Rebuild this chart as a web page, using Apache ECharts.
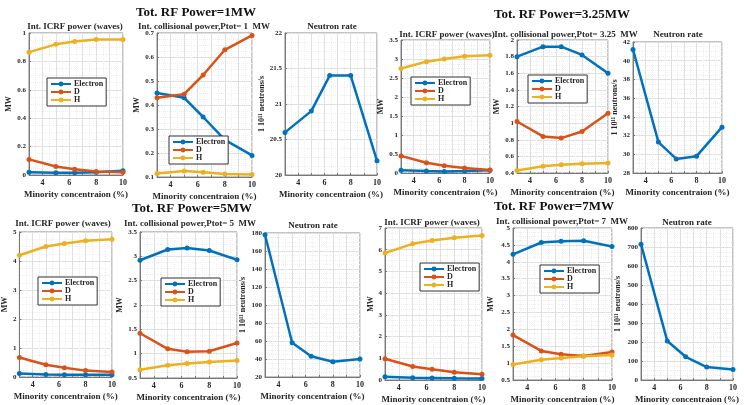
<!DOCTYPE html>
<html>
<head>
<meta charset="utf-8">
<script src="https://cdn.jsdelivr.net/npm/echarts@6/dist/echarts.min.js"></script>
<style>
html, body { margin: 0; padding: 0; background: #fff; }
#chart { width: 744px; height: 405px; }
</style>
</head>
<body>
<div id="chart"></div>
<script>
// minority concentration (%)
var conc = [3, 5, 6.4, 8, 10]
var names = ['Electron', 'D', 'H']

// Tot. RF Power = 1 MW
var icrf1Electron = [0.02, 0.015, 0.015, 0.02, 0.03]
var icrf1D = [0.11, 0.06, 0.04, 0.025, 0.02]
var icrf1H = [0.865, 0.92, 0.94, 0.955, 0.955]
var coll1Electron = [0.45, 0.43, 0.35, 0.255, 0.19]
var coll1D = [0.43, 0.445, 0.525, 0.63, 0.69]
var coll1H = [0.115, 0.125, 0.12, 0.112, 0.11]
var neutron1 = [20.6, 20.9, 21.4, 21.4, 20.2]

// Tot. RF Power = 3.25 MW
var icrf3Electron = [0.07, 0.05, 0.04, 0.05, 0.07]
var icrf3D = [0.45, 0.27, 0.19, 0.13, 0.08]
var icrf3H = [2.75, 2.93, 3.0, 3.07, 3.1]
var coll3Electron = [1.8, 1.92, 1.92, 1.82, 1.6]
var coll3D = [1.02, 0.84, 0.82, 0.9, 1.12]
var coll3H = [0.43, 0.48, 0.5, 0.51, 0.52]
var neutron3 = [41.2, 31.3, 29.5, 29.8, 32.9]

// Tot. RF Power = 5 MW
var icrf5Electron = [0.12, 0.09, 0.08, 0.08, 0.08]
var icrf5D = [0.67, 0.42, 0.32, 0.22, 0.17]
var icrf5H = [4.2, 4.5, 4.6, 4.7, 4.75]
var coll5Electron = [2.92, 3.14, 3.17, 3.12, 2.93]
var coll5D = [1.42, 1.1, 1.04, 1.05, 1.22]
var coll5H = [0.67, 0.76, 0.8, 0.83, 0.86]
var neutron5 = [178, 58, 43, 37, 40]

// Tot. RF Power = 7 MW
var icrf7Electron = [0.15, 0.1, 0.09, 0.08, 0.07]
var icrf7D = [0.98, 0.62, 0.5, 0.36, 0.27]
var icrf7H = [5.85, 6.27, 6.42, 6.55, 6.65]
var coll7Electron = [4.22, 4.57, 4.61, 4.62, 4.45]
var coll7D = [1.83, 1.36, 1.26, 1.21, 1.33]
var coll7H = [0.96, 1.1, 1.15, 1.2, 1.24]
var neutron7 = [715, 205, 122, 68, 55]

var colors = ['#0072BD', '#D95319', '#EDB120']
var font = 'Liberation Serif'
var ink = '#262626'
var neutronName = '1 10\u00b9\u00b9 neutrons/s'

var panels = [
  { box: [29, 33, 94, 142], y: [0, 1, 0.2], title: 'Int. ICRF power (waves)', t: [75, 22], yn: 'MW', gap: 16, lines: [icrf1Electron, icrf1D, icrf1H], leg: [47, 78] },
  { box: [157, 33, 95, 144], y: [0.1, 0.7, 0.1], title: 'Int. collisional power,Ptot= 1  MW', t: [204, 22], yn: 'MW', gap: 14, lines: [coll1Electron, coll1D, coll1H], leg: [169, 136] },
  { box: [285, 33, 92, 142], y: [20, 22, 0.5], title: 'Neutron rate', t: [332, 22], yn: neutronName, gap: 18, lines: [neutron1] },
  { box: [401, 40, 89, 133], y: [0, 3.5, 0.5], title: 'Int. ICRF power (waves)', t: [447, 30], yn: 'MW', gap: 14, lines: [icrf3Electron, icrf3D, icrf3H], leg: [411, 77] },
  { box: [517, 40, 91, 133], y: [0.4, 2, 0.2], title: 'Int. collisional power,Ptot= 3.25  MW', t: [566, 30], yn: 'MW', gap: 13, lines: [coll3Electron, coll3D, coll3H], leg: [528, 75] },
  { box: [633, 42, 89, 131], y: [28, 42, 2], title: 'Neutron rate', t: [678, 30], yn: neutronName, gap: 14, lines: [neutron3] },
  { box: [17, 232, 95, 145], y: [0, 5, 1], title: 'Int. ICRF power (waves)', t: [63, 219], yn: 'MW', gap: 10, lines: [icrf5Electron, icrf5D, icrf5H], leg: [38, 277] },
  { box: [140, 232, 97, 146], y: [0.5, 3.5, 0.5], title: 'Int. collisional power,Ptot= 5  MW', t: [190, 219], yn: 'MW', gap: 9, lines: [coll5Electron, coll5D, coll5H], leg: [161, 278] },
  { box: [265, 233, 95, 144], y: [20, 180, 20], title: 'Neutron rate', t: [313, 221], yn: neutronName, gap: 18, lines: [neutron5] },
  { box: [385, 228, 97, 155], y: [0, 7, 1], title: 'Int. ICRF power (waves)', t: [432, 218], yn: 'MW', gap: 10, lines: [icrf7Electron, icrf7D, icrf7H], leg: [420, 263] },
  { box: [513, 228, 99, 155], y: [0.5, 5, 0.5], title: 'Int. collisional power,Ptot= 7  MW', t: [562, 217], yn: 'MW', gap: 18, lines: [coll7Electron, coll7D, coll7H], leg: [540, 265] },
  { box: [641, 228, 92, 155], y: [0, 800, 100], title: 'Neutron rate', t: [687, 218], yn: neutronName, gap: 19, lines: [neutron7] }
]

var superTitles = [
  { text: 'Tot. RF Power=1MW', x: 196, y: 6 },
  { text: 'Tot. RF Power=3.25MW', x: 562, y: 8 },
  { text: 'Tot. RF Power=5MW', x: 192, y: 202 },
  { text: 'Tot. RF Power=7MW', x: 554, y: 200 }
]

var grid = []
var xAxis = []
var yAxis = []
var series = []
var title = []
var legend = []

superTitles.forEach(function (s) {
  title.push({
    text: s.text, left: s.x, top: s.y, textAlign: 'center', padding: 0,
    textStyle: { fontFamily: font, fontWeight: 'bold', fontSize: 13, color: '#111' }
  })
})

panels.forEach(function (p, i) {
  grid.push({
    left: p.box[0], top: p.box[1], width: p.box[2], height: p.box[3],
    show: true, borderColor: '#888', borderWidth: 1, backgroundColor: '#fff'
  })
  title.push({
    text: p.title, left: p.t[0], top: p.t[1], textAlign: 'center', padding: 0,
    textStyle: { fontFamily: font, fontWeight: 'bold', fontSize: 9, color: ink }
  })
  xAxis.push({
    gridIndex: i, type: 'value', min: 3, max: 10, interval: 1,
    name: 'Minority concentraion (%)', nameLocation: 'middle', nameGap: 15,
    nameTextStyle: { fontFamily: font, fontWeight: 'bold', fontSize: 9, color: ink },
    axisLine: { lineStyle: { color: '#777' } },
    axisTick: { inside: true, length: 2, lineStyle: { color: '#777' } },
    axisLabel: {
      fontFamily: font, fontWeight: 'bold', fontSize: 8, color: ink, margin: 4,
      formatter: function (v) { return v % 2 === 0 ? String(v) : '' }
    },
    splitLine: { show: true, lineStyle: { color: '#e0e0e0', width: 1 } },
    minorTick: { show: false, splitNumber: 2 },
    minorSplitLine: { show: true, lineStyle: { color: '#eeeeee', type: 'dotted' } }
  })
  yAxis.push({
    gridIndex: i, type: 'value', min: p.y[0], max: p.y[1], interval: p.y[2],
    name: p.yn, nameLocation: 'middle', nameGap: p.gap,
    nameTextStyle: { fontFamily: font, fontWeight: 'bold', fontSize: 8, color: ink },
    axisLine: { show: true, lineStyle: { color: '#777' } },
    axisTick: { show: true, inside: true, length: 2, lineStyle: { color: '#777' } },
    axisLabel: { fontFamily: font, fontWeight: 'bold', fontSize: 7, color: ink, margin: 3 },
    splitLine: { show: true, lineStyle: { color: '#e0e0e0', width: 1 } },
    minorTick: { show: false, splitNumber: 4 },
    minorSplitLine: { show: true, lineStyle: { color: '#eeeeee', type: 'dotted' } }
  })
  p.lines.forEach(function (arr, k) {
    series.push({
      type: 'line',
      name: p.lines.length > 1 ? names[k] : 'Neutron rate',
      xAxisIndex: i, yAxisIndex: i,
      data: conc.map(function (x, j) { return [x, arr[j]] }),
      symbol: 'circle', symbolSize: 5,
      itemStyle: { color: colors[k] },
      lineStyle: { color: colors[k], width: 2.5 }
    })
  })
  if (p.leg) {
    legend.push({
      left: p.leg[0], top: p.leg[1], orient: 'vertical',
      data: names, padding: [2, 3], itemGap: 0, itemWidth: 20, itemHeight: 6,
      backgroundColor: '#fff', borderColor: '#333', borderWidth: 1, borderRadius: 0,
      selectedMode: false,
      textStyle: { fontFamily: font, fontWeight: 'bold', fontSize: 8, color: ink, padding: [0, 0, 0, -2] }
    })
  }
})

var chart = echarts.init(document.getElementById('chart'))
chart.setOption({
  animation: false,
  backgroundColor: '#fff',
  title: title,
  legend: legend,
  grid: grid,
  xAxis: xAxis,
  yAxis: yAxis,
  series: series
})
</script>
</body>
</html>
